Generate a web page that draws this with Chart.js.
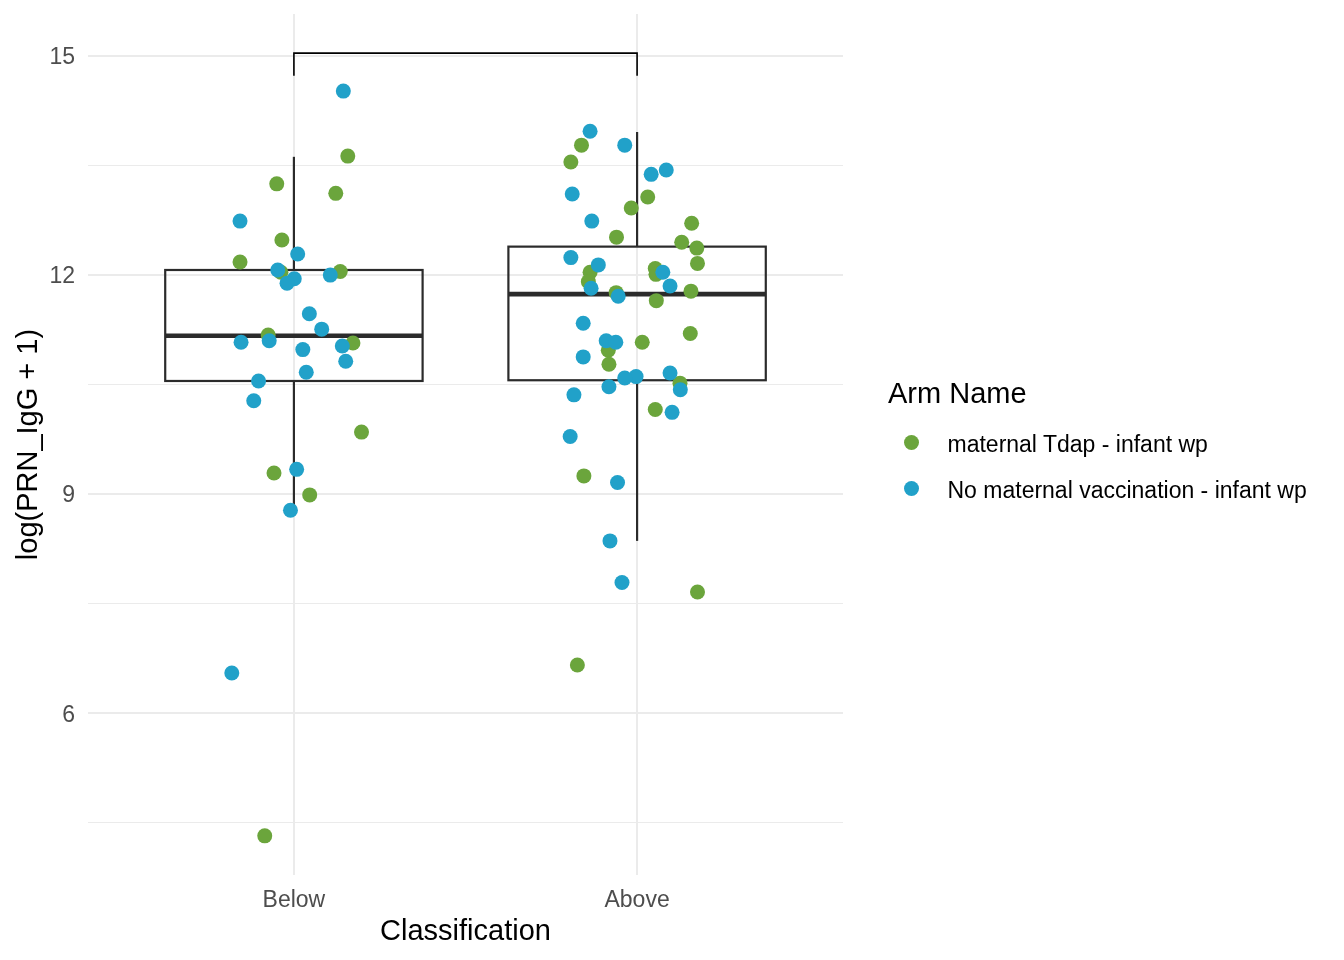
<!DOCTYPE html>
<html>
<head>
<meta charset="utf-8">
<script src="https://cdn.jsdelivr.net/npm/chart.js@4.4.1/dist/chart.umd.min.js"></script>
<style>
  html, body { margin: 0; padding: 0; background: #fff; }
  #wrap { position: relative; width: 1344px; height: 960px; font-family: "Liberation Sans", Arial, Helvetica, sans-serif; }
  #chart { position: absolute; left: 0; top: 0; }
  .lg-title { position: absolute; font-size: 29px; line-height: 29px; color: #000; white-space: nowrap; }
  .lg-label { position: absolute; font-size: 23px; line-height: 23px; color: #000; white-space: nowrap; }
  .lg-dot { position: absolute; width: 15px; height: 15px; border-radius: 50%; }
</style>
</head>
<body>
<div id="wrap">
  <canvas id="chart" width="1344" height="960"></canvas>
  <div id="legend"></div>
</div>
<script>
// ---- data ------------------------------------------------------------
const categories   = ['Below', 'Above'];          // x positions 1 and 2
const seriesNames  = ['maternal Tdap - infant wp', 'No maternal vaccination - infant wp'];
const seriesColors = ['#6BA53C', '#21A1C9'];
const legendTitle  = 'Arm Name';

// jittered points, maternal Tdap - infant wp
const tdapX = [1.157, 0.950, 1.122, 0.965, 0.843, 0.962, 1.135, 0.925, 1.172, 1.197, 0.942, 1.046, 0.915,
               1.838, 1.807, 2.031, 1.983, 2.159, 1.940, 2.130, 2.174, 2.176, 1.863, 1.858, 2.053, 2.055,
               2.157, 1.939, 2.056, 2.155, 2.015, 1.916, 1.918, 2.125, 2.053, 1.845, 2.176, 1.826];
const tdapY = [13.63, 13.25, 13.12, 12.48, 12.18, 12.04, 12.05, 11.18, 11.07, 9.85, 9.29, 8.99, 4.32,
               13.78, 13.55, 13.07, 12.92, 12.71, 12.52, 12.45, 12.37, 12.16, 12.04, 11.91, 12.09, 12.01,
               11.78, 11.76, 11.65, 11.20, 11.08, 10.97, 10.78, 10.52, 10.16, 9.25, 7.66, 6.66];

// jittered points, No maternal vaccination - infant wp
const noVaxX = [1.144, 0.843, 1.011, 0.953, 1.001, 0.980, 1.106, 1.045, 1.081, 0.928, 0.846, 1.141, 1.026,
                1.151, 1.036, 0.897, 0.883, 1.008, 0.990, 0.819,
                1.863, 1.964, 2.085, 2.041, 1.811, 1.868, 1.807, 1.887, 2.075, 2.096, 1.866, 1.945, 1.843,
                1.910, 1.938, 1.843, 2.096, 1.997, 1.964, 1.918, 2.126, 1.816, 2.102, 1.805, 1.943, 1.921, 1.956];
const noVaxY = [14.52, 12.74, 12.29, 12.07, 11.95, 11.89, 12.00, 11.47, 11.26, 11.10, 11.08, 11.03, 10.98,
                10.82, 10.67, 10.55, 10.28, 9.34, 8.78, 6.55,
                13.97, 13.78, 13.44, 13.38, 13.11, 12.74, 12.24, 12.14, 12.04, 11.85, 11.82, 11.71, 11.34,
                11.10, 11.08, 10.88, 10.66, 10.61, 10.59, 10.47, 10.43, 10.36, 10.12, 9.79, 9.16, 8.36, 7.79];

// boxplot stats per category
const boxQ1        = [10.55, 10.56];
const boxMedian    = [11.17, 11.74];
const boxQ3        = [12.07, 12.39];
const whiskerLow   = [8.78, 8.36];
const whiskerHigh  = [13.62, 13.96];

// significance bracket between the two groups
const bracketTop = 15.04;
const bracketTip = 14.73;

const yTicks = [4.5, 6, 7.5, 9, 10.5, 12, 13.5, 15];

// ---- helpers ---------------------------------------------------------
const toPoints = (xs, ys) => xs.map((v, i) => ({ x: v, y: ys[i] }));
const FONT = '"Liberation Sans", Arial, Helvetica, sans-serif';
const BOX_HALF = 0.375;

const boxPlugin = {
  id: 'boxes',
  beforeDatasetsDraw(chart) {
    const { ctx, scales: { x, y } } = chart;
    const seg = (x1, y1, x2, y2) => { ctx.beginPath(); ctx.moveTo(x1, y1); ctx.lineTo(x2, y2); ctx.stroke(); };
    ctx.save();
    ctx.strokeStyle = '#2B2B2B';
    ctx.lineCap = 'butt';
    categories.forEach((c, i) => {
      const cx = x.getPixelForValue(i + 1);
      const l = x.getPixelForValue(i + 1 - BOX_HALF);
      const r = x.getPixelForValue(i + 1 + BOX_HALF);
      const q1 = y.getPixelForValue(boxQ1[i]);
      const q3 = y.getPixelForValue(boxQ3[i]);
      const md = y.getPixelForValue(boxMedian[i]);
      ctx.lineWidth = 2.2;
      seg(cx, y.getPixelForValue(whiskerHigh[i]), cx, q3);
      seg(cx, q1, cx, y.getPixelForValue(whiskerLow[i]));
      ctx.strokeRect(l, q3, r - l, q1 - q3);
      ctx.lineWidth = 4.6;
      seg(l, md, r, md);
    });
    // bracket
    const bx1 = x.getPixelForValue(1), bx2 = x.getPixelForValue(2);
    const by = y.getPixelForValue(bracketTop), bt = y.getPixelForValue(bracketTip);
    ctx.strokeStyle = '#000';
    ctx.lineWidth = 1.6;
    ctx.beginPath();
    ctx.moveTo(bx1, bt); ctx.lineTo(bx1, by); ctx.lineTo(bx2, by); ctx.lineTo(bx2, bt);
    ctx.stroke();
    ctx.restore();
  }
};

// ---- chart -----------------------------------------------------------
Chart.defaults.font.family = FONT;

new Chart(document.getElementById('chart'), {
  type: 'scatter',
  data: {
    datasets: [
      { label: seriesNames[0], data: toPoints(tdapX, tdapY), backgroundColor: seriesColors[0],
        pointRadius: 7.5, pointBorderWidth: 0, order: 2 },
      { label: seriesNames[1], data: toPoints(noVaxX, noVaxY), backgroundColor: seriesColors[1],
        pointRadius: 7.5, pointBorderWidth: 0, order: 1 }
    ]
  },
  options: {
    responsive: false,
    animation: false,
    events: [],
    layout: { padding: { left: 0, top: 14, right: 501, bottom: 0 } },
    plugins: { legend: { display: false }, tooltip: { enabled: false } },
    scales: {
      x: {
        type: 'linear', min: 0.4, max: 2.6,
        afterBuildTicks: s => { s.ticks = categories.map((c, i) => ({ value: i + 1 })); },
        afterFit: s => { s.height = 85; s.paddingLeft = 0; s.paddingRight = 0; },
        ticks: { autoSkip: false, maxRotation: 0, padding: 12, color: '#4D4D4D', font: { size: 23 },
                 callback: v => categories[Math.round(v) - 1] },
        grid: { color: '#EBEBEB', lineWidth: 2, drawTicks: false },
        border: { display: false },
        title: { display: true, text: 'Classification', color: '#000', font: { size: 29 },
                 padding: { top: 0, bottom: 11 } }
      },
      y: {
        min: 3.784, max: 15.576,
        afterBuildTicks: s => { s.ticks = yTicks.map(v => ({ value: v })); },
        afterFit: s => { s.width = 88; s.paddingTop = 0; s.paddingBottom = 0; },
        ticks: { padding: 13, labelOffset: 2, color: '#4D4D4D', font: { size: 23 },
                 callback: v => (v % 3 === 0 ? String(v) : '') },
        grid: { color: '#EBEBEB', drawTicks: false,
                lineWidth: c => (c.tick && c.tick.value % 3 === 0 ? 2 : 1.1) },
        border: { display: false },
        title: { display: true, text: 'log(PRN_IgG + 1)', color: '#000', font: { size: 29 },
                 padding: { top: 12, bottom: 0 } }
      }
    }
  },
  plugins: [boxPlugin]
});

// ---- legend ----------------------------------------------------------
const legend = document.getElementById('legend');
legend.innerHTML =
  `<div class="lg-title" style="left:888px;top:379px;">${legendTitle}</div>` +
  seriesNames.map((n, i) => `
    <div class="lg-dot" style="left:${904}px;top:${435 + i * 45.6}px;background:${seriesColors[i]}"></div>
    <div class="lg-label" style="left:947.5px;top:${433.2 + i * 45.6}px;">${n}</div>`).join('');
</script>
</body>
</html>
